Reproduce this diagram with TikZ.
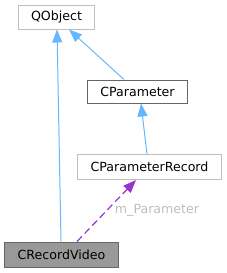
\documentclass[tikz,border=0pt]{standalone}
\usepackage{fontspec}
\setmainfont{DejaVu Sans}
\usetikzlibrary{arrows.meta}
\definecolor{edgeblue}{HTML}{63B8FF}
\definecolor{edgepurple}{HTML}{9A32CD}
\definecolor{lightborder}{HTML}{BFBFBF}
\definecolor{darkborder}{HTML}{666666}
\definecolor{grayfill}{HTML}{999999}
\definecolor{labelgray}{HTML}{BDBDBD}
\begin{document}
\begin{tikzpicture}[x=1bp,y=-1bp,
  box/.style={draw=lightborder, line width=1bp, fill=white, inner sep=0pt,
    font=\fontsize{12.6bp}{14bp}\selectfont, text=black},
  darkbox/.style={box, draw=darkborder},
  curbox/.style={box, draw=darkborder, fill=grayfill},
  inherit/.style={draw=edgeblue, line width=1bp, -{Triangle[length=13bp,width=10bp]}},
  usage/.style={draw=edgepurple, line width=1.2bp, dash pattern=on 7bp off 4bp,
    -{Triangle[length=13bp,width=10bp]}},
  lbl/.style={text=labelgray, font=\fontsize{12.6bp}{14bp}\selectfont, inner sep=0pt}]
\useasboundingbox (0,0) rectangle (227,273);
\node[box, minimum width=75bp, minimum height=24bp] (qo) at (56.5,17) {QObject};
\node[darkbox, minimum width=99bp, minimum height=23bp] (cp) at (137.5,91.5) {CParameter};
\node[box, minimum width=143bp, minimum height=25bp] (cpr) at (149.5,167) {CParameterRecord};
\node[curbox, minimum width=113bp, minimum height=25bp] (rv) at (61.5,254.5) {CRecordVideo};
\draw[inherit] ([xshift=-0.5bp]rv.north) -- ([xshift=0.5bp]qo.south);
\draw[inherit] ([xshift=-13.5bp]cp.north) -- ([xshift=12.5bp]qo.south);
\draw[inherit] ([xshift=-2.5bp]cpr.north) -- ([xshift=3.5bp]cp.south);
\draw[usage] ([xshift=15.5bp]rv.north) -- ([xshift=-13.5bp]cpr.south);
\node[lbl] (ml) at (157,210) {m\_Parameter};
\end{tikzpicture}
\end{document}
